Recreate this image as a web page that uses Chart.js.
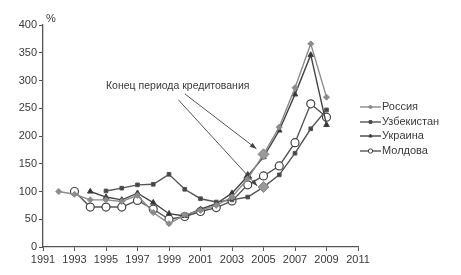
<!DOCTYPE html>
<html>
<head>
<meta charset="utf-8">
<script src="https://cdn.jsdelivr.net/npm/chart.js@4"></script>
<style>
  html, body { margin: 0; padding: 0; background: #fff; }
  #wrap { width: 461px; height: 275px; }
</style>
</head>
<body>
<div id="wrap"><canvas id="chart" width="461" height="275"></canvas></div>
<script>
// data (index, %)
const years = [1992, 1993, 1994, 1995, 1996, 1997, 1998, 1999, 2000, 2001, 2002, 2003, 2004, 2005, 2006, 2007, 2008, 2009];
const russia     = [100, 95, 85, 85, 82, 93, 62, 42, 58, 66, 75, 90, 123, 167, 216, 287, 366, 270];
const uzbekistan = [null, null, null, 101, 106, 112, 113, 131, 104, 87, 81, 85, 90, 108, 130, 169, 213, 247];
const ukraine    = [null, null, 100, 90, 85, 97, 80, 60, 56, 68, 78, 97, 128, 162, 210, 275, 346, 220];
const moldova    = [null, 100, 72, 72, 72, 84, 68, 50, 55, 64, 71, 83, 112, 128, 146, 188, 258, 234];
const seriesNames = ["Россия", "Узбекистан", "Украина", "Молдова"];
const xTicks = [1991, 1993, 1995, 1997, 1999, 2001, 2003, 2005, 2007, 2009, 2011];
const noteText = "Конец периода кредитования";
// arrows from the note to the end of the crediting period (year, %)
const arrows = [
  [[2000.0, 276], [2004.55, 177]],
  [[1999.6, 265], [2004.6, 110]]
];
// highlighted points (dataset index, year)
const bigPoints = [[0, 2005], [1, 2005], [2, 2004]];

function toPoints(vals) {
  let pts = [];
  for (let i = 0; i < years.length; i++) {
    if (vals[i] !== null) pts.push({ x: years[i], y: vals[i] });
  }
  return pts;
}

function isBig(dsIndex, c) {
  return !!c.raw && bigPoints.some(b => b[0] === dsIndex && b[1] === c.raw.x);
}

const styles = [
  { color: "#8c8c8c", fill: "#8c8c8c", style: "rectRot", r: 3, big: 5.5 },
  { color: "#555555", fill: "#444444", style: "rect", r: 2.6, big: 5.5 },
  { color: "#444444", fill: "#333333", style: "triangle", r: 3.2, big: 4.5 },
  { color: "#555555", fill: "#ffffff", style: "circle", r: 4, big: 4 }
];
const allSeries = [russia, uzbekistan, ukraine, moldova];

const datasets = allSeries.map((vals, i) => ({
  label: seriesNames[i],
  data: toPoints(vals),
  borderColor: styles[i].color,
  borderWidth: 1.4,
  pointStyle: (c) => (i === 1 && isBig(i, c)) ? "rectRot" : styles[i].style,
  pointRadius: (c) => isBig(i, c) ? styles[i].big : styles[i].r,
  pointBackgroundColor: (c) => (i < 2 && isBig(i, c)) ? "#999" : styles[i].fill,
  pointBorderColor: (c) => (i < 2 && isBig(i, c)) ? "#888" : (i === 3 ? "#444" : styles[i].color),
  pointBorderWidth: i === 3 ? 1.2 : 1,
  tension: 0
}));

const font = { family: "'Liberation Sans', Arial, sans-serif", size: 11 };
const textColor = "#3a3a3a";

// note, arrows, "%" and legend
const extras = {
  id: "extras",
  afterDraw(chart) {
    const ctx = chart.ctx;
    const xs = chart.scales.x, ys = chart.scales.y;
    ctx.save();
    ctx.font = "11px 'Liberation Sans', Arial, sans-serif";
    ctx.fillStyle = textColor;
    ctx.textBaseline = "middle";
    ctx.textAlign = "left";
    ctx.fillText("%", ys.right + 3, ys.top - 6);
    ctx.font = "10.5px 'Liberation Sans', Arial, sans-serif";
    ctx.fillText(noteText, 106, 86);

    ctx.strokeStyle = "#555";
    ctx.fillStyle = "#444";
    ctx.lineWidth = 1;
    for (const a of arrows) {
      const x1 = xs.getPixelForValue(a[0][0]), y1 = ys.getPixelForValue(a[0][1]);
      const x2 = xs.getPixelForValue(a[1][0]), y2 = ys.getPixelForValue(a[1][1]);
      ctx.beginPath();
      ctx.moveTo(x1, y1);
      ctx.lineTo(x2, y2);
      ctx.stroke();
      const ang = Math.atan2(y2 - y1, x2 - x1);
      ctx.beginPath();
      ctx.moveTo(x2, y2);
      ctx.lineTo(x2 - 7 * Math.cos(ang - 0.35), y2 - 7 * Math.sin(ang - 0.35));
      ctx.lineTo(x2 - 7 * Math.cos(ang + 0.35), y2 - 7 * Math.sin(ang + 0.35));
      ctx.closePath();
      ctx.fill();
    }

    // legend
    ctx.font = "11px 'Liberation Sans', Arial, sans-serif";
    const ly = [107, 122, 136, 151];
    for (let i = 0; i < seriesNames.length; i++) {
      const s = styles[i];
      ctx.strokeStyle = s.color;
      ctx.lineWidth = 1.4;
      ctx.beginPath();
      ctx.moveTo(360, ly[i]);
      ctx.lineTo(381, ly[i]);
      ctx.stroke();
      ctx.fillStyle = s.fill;
      ctx.strokeStyle = i === 3 ? "#444" : s.color;
      ctx.lineWidth = 1;
      Chart.helpers.drawPoint(ctx, {
        pointStyle: s.style,
        radius: i === 3 ? 2.2 : 2,
        borderWidth: 1
      }, 370.5, ly[i]);
      ctx.fillStyle = textColor;
      ctx.fillText(seriesNames[i], 382, ly[i]);
    }
    ctx.restore();
  }
};

new Chart(document.getElementById("chart"), {
  type: "line",
  data: { datasets: datasets },
  options: {
    responsive: false,
    animation: false,
    devicePixelRatio: 1,
    layout: { padding: { top: 25, right: 103, bottom: 0, left: 0 } },
    plugins: { legend: { display: false }, tooltip: { enabled: false } },
    scales: {
      x: {
        type: "linear",
        min: 1991,
        max: 2011,
        afterBuildTicks: (s) => { s.ticks = xTicks.map(v => ({ value: v })); },
        afterFit: (s) => { s.height = 28; },
        grid: { drawOnChartArea: false, color: "#555", tickLength: 4 },
        border: { color: "#555", width: 1.3 },
        ticks: { color: textColor, font: font, maxRotation: 0, padding: 2, callback: (v) => String(v) }
      },
      y: {
        min: 0,
        max: 400,
        afterFit: (s) => { s.width = 43; },
        grid: { drawOnChartArea: false, color: "#555", tickLength: 4 },
        border: { color: "#555", width: 1.3 },
        ticks: { stepSize: 50, color: textColor, font: font, padding: 2 }
      }
    }
  },
  plugins: [extras]
});
</script>
</body>
</html>
